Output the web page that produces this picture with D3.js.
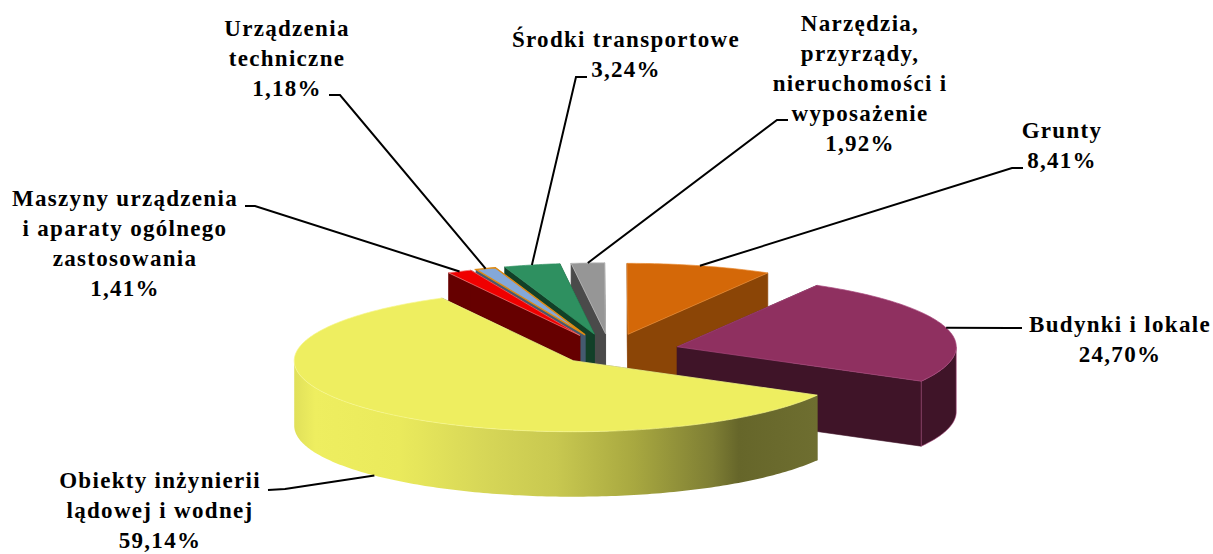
<!DOCTYPE html>
<html><head><meta charset="utf-8"><script src="https://cdn.jsdelivr.net/npm/d3@7"></script>
<style>html,body{margin:0;background:#fff}svg{display:block}text{font-family:"Liberation Serif";font-weight:700;font-size:23px;fill:#000;letter-spacing:1.3px}</style></head><body>
<script>
const categories=["Obiekty inżynierii lądowej i wodnej","Maszyny urządzenia i aparaty ogólnego zastosowania","Urządzenia techniczne","Środki transportowe","Narzędzia, przyrządy, nieruchomości i wyposażenie","Grunty","Budynki i lokale"];
const values=[59.14,1.41,1.18,3.24,1.92,8.41,24.70];
const labelLines=[["Obiekty inżynierii","lądowej i wodnej","59,14%"],["Maszyny urządzenia","i aparaty ogólnego","zastosowania","1,41%"],["Urządzenia","techniczne","1,18%"],["Środki transportowe","3,24%"],["Narzędzia,","przyrządy,","nieruchomości i","wyposażenie","1,92%"],["Grunty","8,41%"],["Budynki i lokale","24,70%"]];
const explosion=[.185,.25,.25,.25,.25,.25,.25];
const topColors=["#eeee60","#f00000","#84a8d8","#2e9060","#969696","#d46808","#8f3060"];
const wallColors=["#6a6a2c","#660000","#445a70","#124028","#4a4a4a","#8b4506","#3f1428"];
const edgeColors=["#f6f68c","#f08080","#e08a10","#2e9060","#c0c0c0","#e88a30","#a8487c"];
const labelX=[160,125,287,626,860,1062,1120];
const labelTop=[488,206,36,47,31,138,332];
const elbows=[[285,489],[255,206],[340,95],[576,77],[777,120],[1012,168],[1010,328]];
const tails=[[268,490],[245,206],[329,95],[587,77],[788,120],[1023,168],[1022,328]];

const W=1213,H=554,cx=610,cy=351.5,rx=279,ry=71,depth=65;
const svg=d3.select("body").append("svg").attr("width",W).attr("height",H);
const defs=svg.append("defs");
const grad=defs.append("linearGradient").attr("id","g0").attr("x1",0).attr("x2",1).attr("y1",0).attr("y2",0);
[[0,"#e0e05a"],[.04,"#eeee60"],[.2,"#eaea5c"],[.35,"#d8d858"],[.5,"#c8c850"],[.65,"#a8a840"],[.8,"#7e7e34"],[.85,"#66662a"],[1,"#6e6e30"]].forEach(s=>grad.append("stop").attr("offset",s[0]).attr("stop-color",s[1]));

const rot=119*Math.PI/180,TAU=2*Math.PI;
const arcs=d3.pie().sort(null).startAngle(rot).endAngle(rot+TAU)(values);
const px=(s,a,r=1)=>[s.ox+rx*r*Math.sin(a),s.oy-ry*r*Math.cos(a)];
const slices=arcs.map((d,i)=>{
  const wrap=d.startAngle>=TAU-1e-6?TAU:0, a0=d.startAngle-wrap, a1=d.endAngle-wrap, m=(a0+a1)/2;
  return {i,a0,a1,m,ox:cx+explosion[i]*rx*Math.sin(m),oy:cy-explosion[i]*ry*Math.cos(m)};});
const line=d3.line();
function rim(s,a0,a1){const n=Math.max(2,Math.ceil((a1-a0)*60));return d3.range(n+1).map(k=>px(s,a0+(a1-a0)*k/n));}
const down=p=>[p[0],p[1]+depth];
const g=svg.append("g");
function drawWalls(s){
  const c=wallColors[s.i],e=edgeColors[s.i],ap=[s.ox,s.oy];
  [px(s,s.a0),px(s,s.a1)].forEach(P=>g.append("path").attr("d",line([ap,P,down(P),down(ap)])+"Z").attr("fill",c).attr("stroke",c).attr("stroke-width",.6));
  const from=Math.max(s.a0,Math.PI/2),to=Math.min(s.a1,Math.PI*1.5);
  if(to>from){const r=rim(s,from,to);
    g.append("path").attr("d",line(r.concat(r.map(down).reverse()))+"Z").attr("fill",s.i===0?"url(#g0)":c).attr("stroke",s.i===0?"none":e).attr("stroke-width",.6);}
}
function drawTop(s){
  const r=rim(s,s.a0,s.a1);
  g.append("path").attr("d",line([[s.ox,s.oy],...r])+"Z").attr("fill",topColors[s.i]).attr("stroke",edgeColors[s.i]).attr("stroke-width",s.i===2?1.4:.7);
}
[5,6,4,3,2,1,0].forEach(i=>{drawWalls(slices[i]);drawTop(slices[i]);});

const ll=svg.append("g");
slices.forEach(s=>{
  let P=px(s,s.m); if(s.i===0) P=down(P);
  ll.append("path").attr("d",line([P,elbows[s.i],tails[s.i]])).attr("fill","none").attr("stroke","#000").attr("stroke-width",2);
});
const lh=30;
labelLines.forEach((ls,i)=>{
  svg.append("text").attr("text-anchor","middle").selectAll("tspan").data(ls).join("tspan")
    .attr("x",labelX[i]).attr("y",(d,k)=>labelTop[i]+k*lh).text(d=>d);
});
</script></body></html>
